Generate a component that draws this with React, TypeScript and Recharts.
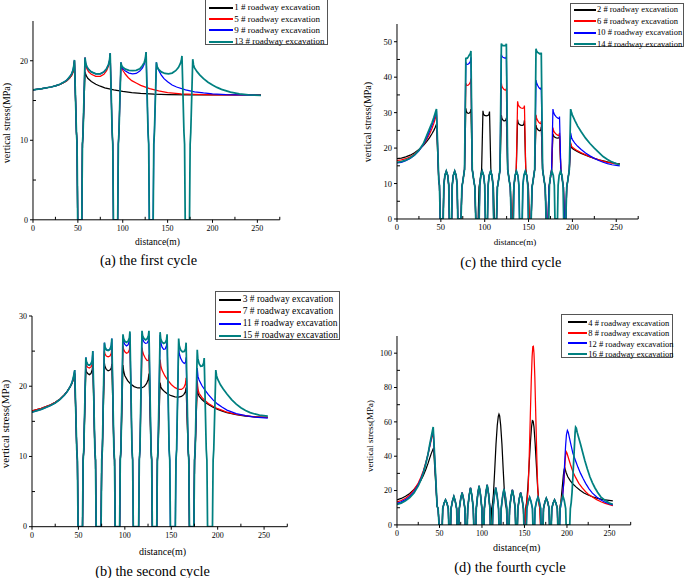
import React from "react";
import { LineChart, Line, XAxis, YAxis } from "recharts";

// Four-panel figure: vertical stress along the measuring line after each excavation cycle.
// Each series is assembled from short named segments (walls, roadway legs, pillar tops) read off the figure.
type Pt = [number, number];

const FONT = '"Liberation Serif", "Times New Roman", serif';
const COLORS = ["#000000", "#ff0000", "#0000ff", "#008080"];
// the last excavation of a cycle is drawn last and a little wider, so it hides the shared roadway legs below it
const WIDTHS = [1.25, 1.25, 1.25, 1.75];
const X_TICKS = [0, 25, 50, 75, 100, 125, 150, 175, 200, 225, 250, 275];

// ---------- (a) the first cycle ----------
const A_NAMES = ["1 # roadway excavation", "5 # roadway excavation", "9 # roadway excavation", "13 # roadway excavation"];
const A_LEFT_DARK: Pt[] = [[0, 16.35], [10, 16.5], [20, 16.7], [25, 16.85], [30, 17.03], [35, 17.3], [38, 17.52], [41, 17.85], [43, 18.15], [44.5, 18.55], [45.5, 19.1], [46.2, 20.0]];
const A_LEFT: Pt[] = [[0, 16.35], [10, 16.5], [20, 16.7], [25, 16.85], [30, 17.05], [35, 17.35], [38, 17.6], [41, 18.0], [43, 18.35], [44.5, 18.8], [45.5, 19.4], [46.2, 20.1]];
const A_RW1: Pt[] = [[48.4, 11], [49.1, 9.5], [49.8, 0], [54.4, 0], [55.1, 9.5], [55.8, 11]];
const A_RW2: Pt[] = [[88.2, 11], [88.9, 9.5], [89.6, 0], [94.4, 0], [95.1, 9.5], [95.8, 11]];
const A_RW3: Pt[] = [[128.2, 11], [128.9, 9.5], [129.6, 0], [133.9, 0], [134.6, 9.5], [135.3, 11]];
const A_RW4: Pt[] = [[168.2, 11], [168.9, 9.5], [169.6, 0], [174.4, 0], [175.1, 9.5], [175.8, 11]];
const A_BLACK_TAIL: Pt[] = [[58, 18.6], [59, 18.2], [61, 17.8], [65, 17.4], [70, 17.05], [75, 16.8], [80, 16.6], [90, 16.35], [100, 16.15], [110, 16.0], [120, 15.9], [135, 15.8], [150, 15.75], [175, 15.7], [200, 15.7], [230, 15.7], [254, 15.7]];
const A_RED_P1: Pt[] = [[58, 20.4], [58.7, 19.5], [60, 19.0], [62, 18.6], [65, 18.3], [70, 18.05], [75, 18.05], [79, 18.3], [82, 18.75], [84, 19.3], [85.2, 19.9], [86, 20.9]];
const A_RED_TAIL: Pt[] = [[98, 19.6], [98.8, 19.1], [100, 18.8], [103, 18.3], [106, 17.9], [110, 17.5], [115, 17.2], [120, 16.9], [130, 16.5], [140, 16.2], [150, 16.0], [165, 15.85], [180, 15.78], [200, 15.72], [230, 15.7], [254, 15.7]];
const A_P1: Pt[] = [[58, 20.4], [58.7, 19.7], [60, 19.25], [62, 18.9], [65, 18.6], [70, 18.35], [75, 18.35], [79, 18.6], [82, 19.0], [84, 19.5], [85.2, 20.0], [86, 20.95]];
const A_BLUE_P2: Pt[] = [[98, 19.8], [98.7, 19.3], [100, 19.0], [103, 18.7], [107, 18.45], [111, 18.35], [115, 18.4], [119, 18.7], [122, 19.1], [124, 19.6], [125.2, 20.2], [126, 21.1]];
const A_BLUE_TAIL: Pt[] = [[137.5, 19.8], [138.3, 19.2], [140, 18.8], [143, 18.2], [146, 17.75], [150, 17.35], [155, 16.95], [160, 16.7], [170, 16.35], [180, 16.1], [190, 15.95], [200, 15.85], [215, 15.75], [235, 15.7], [254, 15.65]];
const A_TEAL_P2: Pt[] = [[98, 19.8], [98.7, 19.4], [100, 19.2], [103, 18.95], [107, 18.8], [111, 18.75], [115, 18.8], [119, 19.0], [122, 19.4], [124, 19.8], [125.2, 20.3], [126, 21.1]];
const A_TEAL_P3: Pt[] = [[137.5, 19.8], [138.2, 19.3], [140, 18.9], [143, 18.6], [147, 18.4], [151, 18.35], [155, 18.45], [159, 18.75], [162, 19.15], [164, 19.6], [165.2, 20.0], [166, 20.6]];
const A_TEAL_TAIL: Pt[] = [[178, 20.2], [178.8, 19.5], [180, 19.1], [183, 18.6], [186, 18.2], [190, 17.75], [195, 17.3], [200, 16.95], [205, 16.65], [210, 16.4], [220, 16.05], [230, 15.85], [240, 15.72], [254, 15.65]];

// ---------- (b) the second cycle ----------
const B_NAMES = ["3 # roadway excavation", "7 # roadway excavation", "11 # roadway excavation", "15 # roadway excavation"];
const B_LEFT_DARK: Pt[] = [[0, 16.5], [10, 16.85], [20, 17.35], [25, 17.7], [30, 18.15], [35, 18.8], [38, 19.3], [41, 19.9], [43, 20.4], [44.5, 20.95], [46, 21.8]];
const B_LEFT_LIGHT: Pt[] = [[0, 16.3], [10, 16.7], [20, 17.25], [25, 17.62], [30, 18.1], [35, 18.75], [38, 19.25], [41, 19.9], [43, 20.5], [44.5, 21.2], [46, 22.3]];
const B_RW1: Pt[] = [[48.2, 11], [48.9, 9.5], [49.6, 0], [54.4, 0], [55.1, 9.5], [55.8, 11]];
const B_RW2: Pt[] = [[67.7, 11], [68.4, 9.5], [69.1, 0], [74.4, 0], [75.1, 9.5], [75.8, 11]];
const B_RW3: Pt[] = [[88.2, 11], [88.9, 9.5], [89.6, 0], [94.4, 0], [95.1, 9.5], [95.8, 11]];
const B_RW4: Pt[] = [[107.7, 11], [108.4, 9.5], [109.1, 0], [114.9, 0], [115.6, 9.5], [116.3, 11]];
const B_RW5: Pt[] = [[128.2, 11], [128.9, 9.5], [129.6, 0], [134.4, 0], [135.1, 9.5], [135.8, 11]];
const B_RW6: Pt[] = [[147.7, 11], [148.4, 9.5], [149.1, 0], [154.4, 0], [155.1, 9.5], [155.8, 11]];
const B_RW7: Pt[] = [[168.2, 11], [168.9, 9.5], [169.6, 0], [174.4, 0], [175.1, 9.5], [175.8, 11]];
const B_RW8: Pt[] = [[187.7, 11], [188.4, 9.5], [189.1, 0], [194.4, 0], [195.1, 9.5], [195.8, 11]];
const B_P1: Pt[] = [[58, 24.1], [58.6, 23.5], [60, 23.1], [61.75, 23.0], [63.5, 23.15], [64.9, 23.7], [65.5, 25.0]];
const B_P2: Pt[] = [[78, 26.2], [78.6, 25.6], [80, 25.2], [82, 25.1], [84, 25.25], [85.4, 25.8], [86, 26.8]];
const B_BLACK_P1: Pt[] = [[58, 22.5], [58.6, 22.1], [60, 21.8], [61.75, 21.65], [63.5, 21.8], [64.9, 22.4], [65.5, 23.4]];
const B_BLACK_P2: Pt[] = [[78, 23.3], [78.6, 22.8], [80, 22.4], [82, 22.2], [84, 22.3], [85.4, 22.6], [86, 23.2]];
const B_BLACK_P34: Pt[] = [[98, 23.0], [98.8, 22.1], [100, 21.5], [103, 20.8], [106, 20.35], [110, 19.95], [114, 19.75], [118, 19.75], [121, 19.95], [123.5, 20.4], [125.2, 21.0], [126, 21.8]];
const B_BLACK_P56: Pt[] = [[138, 20.5], [138.8, 19.9], [140, 19.6], [143, 19.2], [146, 18.9], [150, 18.65], [154, 18.5], [158, 18.45], [161, 18.55], [163.5, 18.8], [165.2, 19.2], [166, 19.8]];
const B_BLACK_TAIL: Pt[] = [[178, 20.3], [178.8, 19.0], [180, 18.6], [183, 18.1], [186, 17.75], [190, 17.4], [195, 17.0], [200, 16.7], [205, 16.45], [210, 16.25], [220, 15.95], [230, 15.75], [240, 15.65], [254, 15.55]];
const B_RED_P1: Pt[] = [[58, 23.2], [58.6, 22.9], [60, 22.7], [61.75, 22.6], [63.5, 22.75], [64.9, 23.1], [65.5, 24.0]];
const B_RED_P2: Pt[] = [[78, 25.0], [78.6, 24.6], [80, 24.3], [82, 24.2], [84, 24.3], [85.4, 24.7], [86, 25.5]];
const B_RED_P3: Pt[] = [[98, 25.8], [98.6, 25.3], [100, 24.9], [101.75, 24.7], [103.5, 24.8], [104.9, 25.2], [105.5, 26.1]];
const B_RED_P4: Pt[] = [[118.5, 25.5], [119.1, 25.0], [120.5, 24.4], [122.25, 23.95], [124, 23.65], [125.4, 23.7], [126, 24.5]];
const B_RED_P56: Pt[] = [[138, 23.8], [138.8, 22.9], [140, 22.3], [143, 21.5], [146, 20.9], [150, 20.25], [154, 19.8], [158, 19.55], [161, 19.55], [163.5, 19.8], [165.2, 20.3], [166, 21.2]];
const B_RED_TAIL: Pt[] = [[178, 20.8], [178.8, 19.5], [180, 19.0], [183, 18.4], [186, 18.0], [190, 17.55], [195, 17.15], [200, 16.8], [205, 16.55], [210, 16.3], [220, 16.0], [230, 15.8], [240, 15.65], [254, 15.55]];
const B_BLUE_P3: Pt[] = [[98, 27.1], [98.6, 26.4], [100, 25.95], [101.75, 25.75], [103.5, 25.9], [104.9, 26.5], [105.5, 27.5]];
const B_BLUE_P4: Pt[] = [[118.5, 27.4], [119.1, 26.8], [120.5, 26.3], [122.25, 26.1], [124, 26.15], [125.4, 26.5], [126, 27.2]];
const B_BLUE_P5: Pt[] = [[138, 27.3], [138.6, 26.3], [140, 25.6], [141.75, 25.25], [143.5, 25.3], [144.9, 25.8], [145.5, 26.8]];
const B_BLUE_P6: Pt[] = [[158, 25.6], [158.6, 24.7], [160, 24.0], [162, 23.5], [164, 23.25], [165.4, 23.4], [166, 24.1]];
const B_BLUE_TAIL: Pt[] = [[178, 22.6], [178.8, 21.4], [180, 20.9], [183, 20.1], [186, 19.5], [190, 18.8], [195, 18.05], [200, 17.45], [205, 17.0], [210, 16.6], [220, 16.1], [230, 15.8], [240, 15.6], [254, 15.45]];
const B_TEAL_P3: Pt[] = [[98, 27.4], [98.6, 26.8], [100, 26.4], [101.75, 26.25], [103.5, 26.4], [104.9, 26.9], [105.5, 27.8]];
const B_TEAL_P4: Pt[] = [[118.5, 27.9], [119.1, 27.2], [120.5, 26.8], [122.25, 26.6], [124, 26.75], [125.4, 27.2], [126, 27.9]];
const B_TEAL_P5: Pt[] = [[138, 27.7], [138.6, 26.8], [140, 26.3], [141.75, 26.1], [143.5, 26.2], [144.9, 26.6], [145.5, 27.4]];
const B_TEAL_P6: Pt[] = [[158, 26.8], [158.6, 25.8], [160, 25.2], [162, 24.9], [164, 24.95], [165.4, 25.3], [166, 26.2]];
const B_TEAL_P7: Pt[] = [[178, 25.2], [178.6, 24.0], [180, 23.2], [181.75, 22.85], [183.5, 22.9], [184.9, 23.3], [185.5, 24.0]];
const B_TEAL_TAIL: Pt[] = [[198, 22.3], [198.8, 21.5], [200, 21.0], [203, 20.2], [206, 19.6], [210, 18.9], [215, 18.1], [220, 17.45], [225, 16.95], [230, 16.55], [235, 16.25], [240, 16.05], [245, 15.9], [254, 15.75]];

// ---------- (c) the third cycle ----------
const C_NAMES = ["2 # roadway excavation", "6 # roadway excavation", "10 # roadway excavation", "14 # roadway excavation"];
const C_LEFT_BLACK: Pt[] = [[0, 17.0], [5, 17.2], [10, 17.5], [15, 18.0], [20, 18.7], [25, 19.6], [30, 20.7], [34, 21.9], [37, 22.9], [40, 24.1], [42, 25.0], [43.5, 25.8], [45, 26.7]];
const C_LEFT_RED: Pt[] = [[0, 16.5], [5, 16.7], [10, 17.0], [15, 17.5], [20, 18.3], [25, 19.4], [30, 20.9], [34, 22.5], [37, 23.9], [40, 25.6], [42, 27.0], [43.5, 28.2], [45, 29.5]];
const C_LEFT_BLUE: Pt[] = [[0, 15.8], [5, 16.0], [10, 16.45], [15, 17.05], [20, 17.95], [25, 19.2], [30, 20.95], [34, 22.9], [37, 24.7], [40, 26.6], [42, 28.0], [43.5, 29.2], [45, 30.5]];
const C_LEFT_TEAL: Pt[] = [[0, 16.0], [5, 16.2], [10, 16.6], [15, 17.2], [20, 18.1], [25, 19.4], [30, 21.2], [34, 23.6], [37, 25.4], [40, 27.2], [42, 28.6], [43.5, 29.8], [45, 31.0]];
const C_DROP: Pt[] = [[47.6, 11], [48.4, 9.5], [49.3, 0]];
const C_BUMP56: Pt[] = [[52.7, 0], [53.4, 9.5], [54.6, 12.3], [56.2, 13.5], [57.8, 12.3], [59, 9.5], [59.7, 0]];
const C_BUMP66: Pt[] = [[62.3, 0], [63, 9.5], [64.2, 12.3], [65.8, 13.5], [67.4, 12.3], [68.6, 9.5], [69.3, 0]];
const C_BUMP97: Pt[] = [[93.7, 0], [94.4, 9.5], [95.6, 12.3], [97.2, 13.5], [98.8, 12.3], [100, 9.5], [100.7, 0]];
const C_BUMP107: Pt[] = [[103.2, 0], [103.9, 9.5], [105.1, 12.3], [106.7, 13.5], [108.3, 12.3], [109.5, 9.5], [110.2, 0]];
const C_BUMP136: Pt[] = [[132.7, 0], [133.4, 9.5], [134.6, 12.3], [136.2, 13.5], [137.8, 12.3], [139, 9.5], [139.7, 0]];
const C_BUMP146: Pt[] = [[142.8, 0], [143.5, 9.5], [144.7, 12.3], [146.3, 13.5], [147.9, 12.3], [149.1, 9.5], [149.8, 0]];
const C_BUMP177: Pt[] = [[173.1, 0], [173.8, 9.5], [175, 12.3], [176.6, 13.5], [178.2, 12.3], [179.4, 9.5], [180.1, 0]];
const C_BUMP187: Pt[] = [[183, 0], [183.7, 9.5], [184.9, 12.3], [186.5, 13.5], [188.1, 12.3], [189.3, 9.5], [190, 0]];
const C_A_IN: Pt[] = [[73, 0], [74, 9], [75, 10.5], [77, 14]];
const C_A_OUT: Pt[] = [[85.8, 14], [87.8, 10.5], [88.8, 9], [89.8, 0]];
const C_B_IN: Pt[] = [[92.5, 0], [93.5, 9], [94.5, 10.5], [96.5, 14]];
const C_B_OUT: Pt[] = [[107, 14], [109, 10.5], [110, 9], [111, 0]];
const C_C_IN: Pt[] = [[113.5, 0], [114.5, 9], [115.5, 10.5], [117.5, 14]];
const C_C_OUT: Pt[] = [[126.2, 14], [128.2, 10.5], [129.2, 9], [130.2, 0]];
const C_D_IN: Pt[] = [[132, 0], [133, 9], [134, 10.5], [136, 14]];
const C_D_OUT: Pt[] = [[146.8, 14], [148.8, 10.5], [149.8, 9], [150.8, 0]];
const C_E_IN: Pt[] = [[153, 0], [154, 9], [155, 10.5], [157, 14]];
const C_E_OUT: Pt[] = [[166, 14], [168, 10.5], [169, 9], [170, 0]];
const C_F_IN: Pt[] = [[172.3, 0], [173.3, 9], [174.3, 10.5], [176.3, 14]];
const C_F_OUT: Pt[] = [[186.8, 14], [188.8, 10.5], [189.8, 9], [190.8, 0]];
const C_RW_IN: Pt[] = [[192.5, 0], [193.5, 9], [194.5, 10.5], [196.5, 14]];
const C_A_TEAL: Pt[] = [[78.5, 45.5], [79.1, 45.2], [80.3, 45.4], [81.4, 45.8], [82.5, 46.3], [83.7, 46.7], [84.3, 47.4]];
const C_A_BLUE: Pt[] = [[78.5, 44.2], [79.1, 43.7], [80.3, 43.6], [81.4, 43.7], [82.5, 44.0], [83.7, 44.5], [84.3, 45.6]];
const C_A_RED: Pt[] = [[78.5, 38.3], [79.1, 37.8], [80.3, 37.7], [81.4, 37.8], [82.5, 38.1], [83.7, 38.6], [84.3, 39.6]];
const C_A_BLACK: Pt[] = [[78.5, 31.2], [79.1, 30.3], [80.3, 29.9], [81.4, 29.8], [82.5, 29.9], [83.7, 30.2], [84.3, 31.0]];
const C_B_BLACK: Pt[] = [[98, 30.5], [98.6, 29.6], [99.8, 29.2], [101.75, 29.1], [103.7, 29.2], [104.9, 29.5], [105.5, 30.3]];
const C_C_TEAL: Pt[] = [[119, 49.5], [119.6, 49.1], [120.8, 48.9], [121.85, 48.9], [122.9, 48.9], [124.1, 49.0], [124.7, 49.4]];
const C_C_BLUE: Pt[] = [[119, 46.4], [119.6, 45.9], [120.8, 45.6], [121.85, 45.5], [122.9, 45.4], [124.1, 45.4], [124.7, 45.8]];
const C_C_RED: Pt[] = [[119, 38.3], [119.6, 37.4], [120.8, 36.9], [121.85, 36.6], [122.9, 36.4], [124.1, 36.3], [124.7, 36.8]];
const C_C_BLACK: Pt[] = [[119, 29.3], [119.6, 28.4], [120.8, 27.9], [121.85, 27.7], [122.9, 27.7], [124.1, 27.9], [124.7, 28.5]];
const C_D_RED: Pt[] = [[137.5, 33.2], [138.1, 32.4], [139.3, 31.7], [141.4, 31.3], [143.5, 31.2], [144.7, 31.4], [145.3, 32.0]];
const C_D_BLACK: Pt[] = [[137.5, 28.0], [138.1, 27.2], [139.3, 26.7], [141.4, 26.4], [143.5, 26.4], [144.7, 26.8], [145.3, 27.8]];
const C_E_TEAL: Pt[] = [[158.5, 48.0], [159.1, 47.4], [160.3, 47.0], [161.5, 46.8], [162.7, 46.6], [163.9, 46.6], [164.5, 46.9]];
const C_E_BLUE: Pt[] = [[158.5, 39.2], [159.1, 38.4], [160.3, 37.7], [161.5, 37.2], [162.7, 36.8], [163.9, 36.6], [164.5, 37.2]];
const C_E_RED: Pt[] = [[158.5, 29.4], [159.1, 28.5], [160.3, 27.8], [161.5, 27.3], [162.7, 27.0], [163.9, 26.9], [164.5, 27.6]];
const C_E_BLACK: Pt[] = [[158.5, 26.5], [159.1, 25.8], [160.3, 25.3], [161.5, 25.0], [162.7, 24.9], [163.9, 25.1], [164.5, 26.0]];
const C_F_BLUE: Pt[] = [[177.8, 31.0], [178.4, 30.2], [179.6, 29.4], [181.55, 28.8], [183.5, 28.4], [184.7, 28.3], [185.3, 28.9]];
const C_F_RED: Pt[] = [[177.8, 25.8], [178.4, 25.0], [179.6, 24.4], [181.55, 23.9], [183.5, 23.6], [184.7, 23.6], [185.3, 24.3]];
const C_F_BLACK: Pt[] = [[177.8, 24.0], [178.4, 23.5], [179.6, 23.1], [181.55, 22.9], [183.5, 22.8], [184.7, 22.9], [185.3, 23.5]];
const C_TAIL_TEAL: Pt[] = [[198, 31.0], [199, 30.0], [200, 29.3], [203, 27.7], [206, 26.2], [210, 24.6], [215, 22.8], [220, 21.3], [225, 20.0], [230, 18.8], [235, 17.6], [240, 16.8], [245, 16.1], [250, 15.6], [254, 15.3]];
const C_TAIL_BLUE: Pt[] = [[198, 24.3], [199, 23.0], [200, 22.4], [203, 21.3], [206, 20.5], [210, 19.6], [215, 18.6], [220, 17.8], [225, 17.1], [230, 16.5], [235, 16.0], [240, 15.6], [245, 15.3], [250, 15.1], [254, 15.0]];
const C_TAIL_RED: Pt[] = [[198, 21.5], [199, 20.6], [200, 20.2], [203, 19.7], [206, 19.2], [210, 18.7], [215, 18.1], [220, 17.6], [225, 17.1], [230, 16.7], [235, 16.3], [240, 16.0], [245, 15.75], [250, 15.55], [254, 15.4]];
const C_TAIL_BLACK: Pt[] = [[198, 21.0], [199, 20.2], [200, 19.9], [203, 19.4], [206, 19.0], [210, 18.5], [215, 18.0], [220, 17.5], [225, 17.1], [230, 16.7], [235, 16.4], [240, 16.1], [245, 15.9], [250, 15.7], [254, 15.6]];

// ---------- (d) the fourth cycle ----------
const D_NAMES = ["4 # roadway excavation", "8 # roadway excavation", "12 # roadway excavation", "16 # roadway excavation"];
const D_LEFT_BLACK: Pt[] = [[0, 14.6], [5, 15.4], [10, 16.7], [15, 18.3], [20, 20.6], [25, 23.6], [28, 25.9], [31, 28.8], [34, 32.4], [36.5, 35.8], [38.5, 38.9], [40.5, 41.8], [43, 44.8]];
const D_LEFT_RED: Pt[] = [[0, 13.4], [5, 14.2], [10, 15.5], [15, 17.4], [20, 20.4], [25, 24.4], [28, 27.6], [31, 31.5], [34, 36.5], [36.5, 41.3], [38.5, 45.5], [40.5, 49.8], [42.6, 54.0]];
const D_LEFT_BLUE: Pt[] = [[0, 12.6], [5, 13.4], [10, 14.7], [15, 16.6], [20, 19.4], [25, 23.4], [28, 26.7], [31, 30.7], [34, 36.0], [36.5, 41.0], [38.5, 46.0], [40.5, 50.8], [42.6, 55.5]];
const D_LEFT_TEAL: Pt[] = [[0, 12.0], [5, 12.7], [10, 14.0], [15, 15.9], [20, 18.6], [25, 22.7], [28, 26.0], [31, 30.2], [34, 35.8], [36.5, 41.2], [38.5, 46.8], [40.5, 51.8], [42.6, 57.0]];
const D_DROP: Pt[] = [[47.2, 11], [48.4, 9.3], [49.5, 0]];
const D_B57: Pt[] = [[53.3, 0], [53.8, 9.5], [55.5, 12.8], [57.1, 14.6], [58.7, 12.8], [60.4, 9.5], [60.9, 0]];
const D_B67: Pt[] = [[63.1, 0], [63.6, 9.5], [65.3, 13.9], [66.9, 16.5], [68.5, 13.9], [70.2, 9.5], [70.7, 0]];
const D_B77: Pt[] = [[72.8, 0], [73.3, 9.5], [75, 15.3], [76.6, 18.8], [78.2, 15.3], [79.9, 9.5], [80.4, 0]];
const D_B87: Pt[] = [[82.7, 0], [83.2, 9.5], [84.9, 17.0], [86.5, 21.5], [88.1, 17.0], [89.8, 9.5], [90.3, 0]];
const D_B97: Pt[] = [[92.8, 0], [93.3, 9.5], [95, 17.8], [96.6, 22.7], [98.2, 17.8], [99.9, 9.5], [100.4, 0]];
const D_B106: Pt[] = [[102.3, 0], [102.8, 9.5], [104.5, 18.2], [106.1, 23.3], [107.7, 18.2], [109.4, 9.5], [109.9, 0]];
const D_B116: Pt[] = [[112.4, 0], [112.9, 9.5], [114.6, 17.1], [116.2, 21.7], [117.8, 17.1], [119.5, 9.5], [120, 0]];
const D_B126: Pt[] = [[122.1, 0], [122.6, 9.5], [124.3, 16.6], [125.9, 21.0], [127.5, 16.6], [129.2, 9.5], [129.7, 0]];
const D_B136: Pt[] = [[132, 0], [132.5, 9.5], [134.2, 16.3], [135.8, 20.4], [137.4, 16.3], [139.1, 9.5], [139.6, 0]];
const D_B146: Pt[] = [[141.7, 0], [142.2, 9.5], [143.9, 15.3], [145.5, 18.8], [147.1, 15.3], [148.8, 9.5], [149.3, 0]];
const D_B156: Pt[] = [[152.3, 0], [152.8, 9.5], [154.5, 13.7], [156.1, 16.1], [157.7, 13.7], [159.4, 9.5], [159.9, 0]];
const D_B166: Pt[] = [[162, 0], [162.5, 9.5], [164.2, 13.7], [165.8, 16.1], [167.4, 13.7], [169.1, 9.5], [169.6, 0]];
const D_B176: Pt[] = [[171.9, 0], [172.4, 9.5], [174.1, 13.4], [175.7, 15.5], [177.3, 13.4], [179, 9.5], [179.5, 0]];
const D_B185: Pt[] = [[181.6, 0], [182.1, 9.5], [183.8, 12.8], [185.4, 14.6], [187, 12.8], [188.7, 9.5], [189.2, 0]];
const D_B195: Pt[] = [[191.4, 0], [191.9, 9.5], [193.6, 14.2], [195.2, 16.9], [196.8, 14.2], [198.5, 9.5], [199, 0]];
const D_BLACK_P4: Pt[] = [[110.5, 0], [111.3, 9.5], [112.3, 12], [113.5, 18], [115, 32], [116.5, 47], [118, 58], [119.2, 63.2], [120, 64.5], [120.8, 63.5], [122, 58], [123.5, 47], [125, 32], [126.5, 18], [127.7, 12], [128.7, 9.5], [129.5, 0]];
const D_BLACK_P6: Pt[] = [[150.5, 0], [151.3, 9.5], [152.5, 13], [154, 22], [155.5, 35], [157, 48], [158.3, 57], [159.3, 60.8], [160.2, 60.5], [161.2, 57], [162.5, 48], [164, 35], [165.5, 22], [167, 13], [168.2, 9.5], [169, 0]];
const D_RED_P6: Pt[] = [[150.8, 0], [151.6, 9.5], [152.8, 13], [154.3, 20], [155.5, 38], [156.8, 62], [158, 84], [159, 98], [159.8, 103.8], [160.5, 104], [161.2, 100], [162.2, 86], [163.4, 62], [164.6, 38], [165.7, 20], [167, 13], [168, 9.5], [168.8, 0]];
const D_RIGHT_BLACK: Pt[] = [[191, 0], [191.7, 9.5], [193, 14], [194.5, 22], [195.8, 29], [196.8, 32.5], [197.5, 33.0], [199, 30.5], [201, 28.0], [204, 25.6], [207, 23.8], [211, 22.0], [215, 20.3], [220, 18.6], [225, 17.4], [230, 16.4], [235, 15.6], [240, 15.0], [245, 14.5], [254, 14.0]];
const D_RIGHT_RED: Pt[] = [[191, 0], [191.7, 9.5], [193, 14], [195, 18], [196.5, 25], [197.5, 34], [198.3, 40], [199, 42.7], [200, 41.8], [202, 38.5], [204, 35.3], [207, 31.0], [210, 27.8], [214, 24.2], [218, 21.5], [222, 19.3], [226, 17.5], [230, 16.2], [235, 14.7], [240, 13.5], [245, 12.5], [254, 11.2]];
const D_RIGHT_BLUE: Pt[] = [[191.5, 0], [192.2, 9.5], [193.5, 13], [195, 17], [196.2, 25], [197.3, 36], [198.4, 46], [199.4, 52.5], [200.5, 55.0], [201.5, 54.0], [203, 50.5], [205, 46.0], [207, 41.7], [210, 37.5], [213, 33.5], [216, 30.0], [219, 27.0], [222, 24.2], [226, 21.0], [230, 18.5], [235, 16.2], [240, 14.5], [245, 13.2], [250, 12.2], [254, 11.6]];
const D_RIGHT_TEAL: Pt[] = [[203.3, 0], [204, 9.5], [205, 13], [206, 19], [207, 28], [208, 38], [209, 48], [209.6, 54], [210.2, 56.9], [211, 56.3], [212, 54.0], [214, 50.5], [216, 47.0], [218.6, 42.0], [221, 37.5], [224, 32.5], [227, 28.0], [230, 24.5], [233, 21.5], [236, 19.0], [240, 16.2], [245, 14.2], [250, 12.7], [254, 12.0]];

type Box = { L: number; T: number; R: number; B: number };
type Series = { name: string; color: string; width: number; points: Pt[] };

function XTick(props: any) {
  const { x, y, payload, fontSize } = props;
  const v = payload.value as number;
  const major = v % 50 === 0;
  return (
    <g>
      <line x1={x} x2={x} y1={y} y2={major ? y + 3 : y - 3} stroke="#000" strokeWidth={1} />
      {major && (
        <text x={x} y={y + 11.5} textAnchor="middle" fontSize={fontSize} fontFamily={FONT} fill="#000">
          {v}
        </text>
      )}
    </g>
  );
}

function YTick(props: any) {
  const { x, y, payload, fontSize, majors } = props;
  const v = payload.value as number;
  const major = majors.includes(v);
  return (
    <g>
      <line x1={x} x2={major ? x - 3 : x + 3} y1={y} y2={y} stroke="#000" strokeWidth={1} />
      {major && (
        <text x={x - 5} y={y + fontSize * 0.35} textAnchor="end" fontSize={fontSize} fontFamily={FONT} fill="#000">
          {v}
        </text>
      )}
    </g>
  );
}

function Panel({ box, yMax, yTicks, yMajors, series, tickFont }: { box: Box; yMax: number; yTicks: number[]; yMajors: number[]; series: Series[]; tickFont: number }) {
  const padL = 40, padT = 6, padR = 6, padB = 30;
  return (
    <div style={{ position: "absolute", left: box.L - padL, top: box.T - padT }}>
      <LineChart width={box.R - box.L + padL + padR} height={box.B - box.T + padT + padB} margin={{ top: padT, right: padR, bottom: 0, left: 0 }}>
        <XAxis type="number" dataKey="x" domain={[0, 275]} ticks={X_TICKS} interval={0} height={padB} tickSize={0} tickMargin={0} tickLine={false} axisLine={{ stroke: "#000" }} tick={(p: any) => <XTick {...p} fontSize={tickFont} />} allowDataOverflow />
        <YAxis type="number" domain={[0, yMax]} ticks={yTicks} interval={0} width={padL} tickSize={0} tickMargin={0} tickLine={false} axisLine={{ stroke: "#000" }} tick={(p: any) => <YTick {...p} fontSize={tickFont} majors={yMajors} />} allowDataOverflow />
        {series.map((s) => (
          <Line key={s.name} name={s.name} data={s.points.map(([x, y]) => ({ x, y }))} dataKey="y" type="linear" stroke={s.color} strokeWidth={s.width} dot={false} activeDot={false} isAnimationActive={false} />
        ))}
      </LineChart>
    </div>
  );
}

function LegendBox({ names, left, top, width, height, r0, dy, lineX, lineLen, textX, fontSize }: { names: string[]; left: number; top: number; width: number; height: number; r0: number; dy: number; lineX: number; lineLen: number; textX: number; fontSize: number }) {
  return (
    <div style={{ position: "absolute", left, top, width, height, border: "1px solid #555", boxSizing: "border-box", background: "#fff" }}>
      {names.map((n, i) => (
        <div key={n}>
          <div style={{ position: "absolute", left: lineX, top: Math.round(r0 + i * dy - 1), width: lineLen, height: 2, background: COLORS[i] }} />
          <div style={{ position: "absolute", left: textX, top: r0 + i * dy - fontSize * 0.6, fontSize, lineHeight: `${fontSize * 1.2}px`, fontFamily: FONT, whiteSpace: "nowrap", color: "#000" }}>{n}</div>
        </div>
      ))}
    </div>
  );
}

function Txt({ x, y, size, children, rotate }: { x: number; y: number; size: number; children: React.ReactNode; rotate?: boolean }) {
  return (
    <div style={{ position: "absolute", left: x, top: y, transform: `translate(-50%, -50%)${rotate ? " rotate(-90deg)" : ""}`, fontSize: size, lineHeight: 1, fontFamily: FONT, whiteSpace: "nowrap", color: "#000" }}>
      {children}
    </div>
  );
}

const mk = (names: string[], lists: Pt[][]): Series[] => lists.map((points, i) => ({ name: names[i], color: COLORS[i], width: WIDTHS[i], points }));

export default function App() {
  const aSeries = mk(A_NAMES, [
    [...A_LEFT_DARK, ...A_RW1, ...A_BLACK_TAIL],
    [...A_LEFT_DARK, ...A_RW1, ...A_RED_P1, ...A_RW2, ...A_RED_TAIL],
    [...A_LEFT, ...A_RW1, ...A_P1, ...A_RW2, ...A_BLUE_P2, ...A_RW3, ...A_BLUE_TAIL],
    [...A_LEFT, ...A_RW1, ...A_P1, ...A_RW2, ...A_TEAL_P2, ...A_RW3, ...A_TEAL_P3, ...A_RW4, ...A_TEAL_TAIL],
  ]);
  const bSeries = mk(B_NAMES, [
    [...B_LEFT_DARK, ...B_RW1, ...B_BLACK_P1, ...B_RW2, ...B_BLACK_P2, ...B_RW3, ...B_BLACK_P34, ...B_RW5, ...B_BLACK_P56, ...B_RW7, ...B_BLACK_TAIL],
    [...B_LEFT_DARK, ...B_RW1, ...B_RED_P1, ...B_RW2, ...B_RED_P2, ...B_RW3, ...B_RED_P3, ...B_RW4, ...B_RED_P4, ...B_RW5, ...B_RED_P56, ...B_RW7, ...B_RED_TAIL],
    [...B_LEFT_LIGHT, ...B_RW1, ...B_P1, ...B_RW2, ...B_P2, ...B_RW3, ...B_BLUE_P3, ...B_RW4, ...B_BLUE_P4, ...B_RW5, ...B_BLUE_P5, ...B_RW6, ...B_BLUE_P6, ...B_RW7, ...B_BLUE_TAIL],
    [...B_LEFT_LIGHT, ...B_RW1, ...B_P1, ...B_RW2, ...B_P2, ...B_RW3, ...B_TEAL_P3, ...B_RW4, ...B_TEAL_P4, ...B_RW5, ...B_TEAL_P5, ...B_RW6, ...B_TEAL_P6, ...B_RW7, ...B_TEAL_P7, ...B_RW8, ...B_TEAL_TAIL],
  ]);
  const cSeries = mk(C_NAMES, [
    [...C_LEFT_BLACK, ...C_DROP, ...C_BUMP56, ...C_BUMP66, ...C_A_IN, ...C_A_BLACK, ...C_A_OUT, ...C_B_IN, ...C_B_BLACK, ...C_B_OUT, ...C_C_IN, ...C_C_BLACK, ...C_C_OUT, ...C_D_IN, ...C_D_BLACK, ...C_D_OUT, ...C_E_IN, ...C_E_BLACK, ...C_E_OUT, ...C_F_IN, ...C_F_BLACK, ...C_F_OUT, ...C_RW_IN, ...C_TAIL_BLACK],
    [...C_LEFT_RED, ...C_DROP, ...C_BUMP56, ...C_BUMP66, ...C_A_IN, ...C_A_RED, ...C_A_OUT, ...C_BUMP97, ...C_BUMP107, ...C_C_IN, ...C_C_RED, ...C_C_OUT, ...C_D_IN, ...C_D_RED, ...C_D_OUT, ...C_E_IN, ...C_E_RED, ...C_E_OUT, ...C_F_IN, ...C_F_RED, ...C_F_OUT, ...C_RW_IN, ...C_TAIL_RED],
    [...C_LEFT_BLUE, ...C_DROP, ...C_BUMP56, ...C_BUMP66, ...C_A_IN, ...C_A_BLUE, ...C_A_OUT, ...C_BUMP97, ...C_BUMP107, ...C_C_IN, ...C_C_BLUE, ...C_C_OUT, ...C_BUMP136, ...C_BUMP146, ...C_E_IN, ...C_E_BLUE, ...C_E_OUT, ...C_F_IN, ...C_F_BLUE, ...C_F_OUT, ...C_RW_IN, ...C_TAIL_BLUE],
    [...C_LEFT_TEAL, ...C_DROP, ...C_BUMP56, ...C_BUMP66, ...C_A_IN, ...C_A_TEAL, ...C_A_OUT, ...C_BUMP97, ...C_BUMP107, ...C_C_IN, ...C_C_TEAL, ...C_C_OUT, ...C_BUMP136, ...C_BUMP146, ...C_E_IN, ...C_E_TEAL, ...C_E_OUT, ...C_BUMP177, ...C_BUMP187, ...C_RW_IN, ...C_TAIL_TEAL],
  ]);
  const dSeries = mk(D_NAMES, [
    [...D_LEFT_BLACK, ...D_DROP, ...D_B57, ...D_B67, ...D_B77, ...D_B87, ...D_B97, ...D_B106, ...D_BLACK_P4, ...D_B136, ...D_B146, ...D_BLACK_P6, ...D_B176, ...D_B185, ...D_RIGHT_BLACK],
    [...D_LEFT_RED, ...D_DROP, ...D_B57, ...D_B67, ...D_B77, ...D_B87, ...D_B97, ...D_B106, ...D_B116, ...D_B126, ...D_B136, ...D_B146, ...D_RED_P6, ...D_B176, ...D_B185, ...D_RIGHT_RED],
    [...D_LEFT_BLUE, ...D_DROP, ...D_B57, ...D_B67, ...D_B77, ...D_B87, ...D_B97, ...D_B106, ...D_B116, ...D_B126, ...D_B136, ...D_B146, ...D_B156, ...D_B166, ...D_B176, ...D_B185, ...D_RIGHT_BLUE],
    [...D_LEFT_TEAL, ...D_DROP, ...D_B57, ...D_B67, ...D_B77, ...D_B87, ...D_B97, ...D_B106, ...D_B116, ...D_B126, ...D_B136, ...D_B146, ...D_B156, ...D_B166, ...D_B176, ...D_B185, ...D_B195, ...D_RIGHT_TEAL],
  ]);

  return (
    <div style={{ position: "absolute", left: 0, top: 0, width: 685, height: 578, background: "#fff", overflow: "hidden" }}>
      <Panel box={{ L: 32.7, T: 21.2, R: 279.5, B: 220 }} yMax={25} yTicks={[0, 5, 10, 15, 20]} yMajors={[0, 10, 20]} series={aSeries} tickFont={8} />
      <Panel box={{ L: 31.7, T: 316, R: 287, B: 526.7 }} yMax={30} yTicks={[0, 5, 10, 15, 20, 25, 30]} yMajors={[0, 10, 20, 30]} series={bSeries} tickFont={8} />
      <Panel box={{ L: 397.3, T: 24.3, R: 638.5, B: 219.3 }} yMax={55} yTicks={[0, 5, 10, 15, 20, 25, 30, 35, 40, 45, 50]} yMajors={[0, 10, 20, 30, 40, 50]} series={cSeries} tickFont={8.5} />
      <Panel box={{ L: 397.3, T: 336.1, R: 631, B: 525 }} yMax={110} yTicks={[0, 10, 20, 30, 40, 50, 60, 70, 80, 90, 100]} yMajors={[0, 20, 40, 60, 80, 100]} series={dSeries} tickFont={8} />

      <LegendBox names={A_NAMES} left={205} top={-1} width={123} height={46} r0={7.7} dy={11.3} lineX={3} lineLen={23.5} textX={28.3} fontSize={9} />
      <LegendBox names={B_NAMES} left={215} top={290.7} width={124.5} height={49.5} r0={7.6} dy={12} lineX={3} lineLen={22} textX={26.7} fontSize={9.5} />
      <LegendBox names={C_NAMES} left={570} top={2.7} width={114} height={44.6} r0={5.6} dy={11.5} lineX={3} lineLen={22} textX={26} fontSize={8.5} />
      <LegendBox names={D_NAMES} left={561} top={314.3} width={112.3} height={44} r0={7.4} dy={10.5} lineX={5.7} lineLen={19.3} textX={26.3} fontSize={8.5} />

      <Txt x={6.5} y={123} size={10} rotate>vertical stress(MPa)</Txt>
      <Txt x={157.5} y={242.7} size={9.5}>distance(m)</Txt>
      <Txt x={148.5} y={260} size={14.3}>(a) the first cycle</Txt>

      <Txt x={368} y={122} size={10} rotate>vertical stress(MPa)</Txt>
      <Txt x={515} y={242.3} size={9}>distance(m)</Txt>
      <Txt x={510.8} y={262.3} size={14.3}>(c) the third cycle</Txt>

      <Txt x={5} y={424} size={11} rotate>vertical stress(MPa)</Txt>
      <Txt x={162.5} y={551.7} size={10}>distance(m)</Txt>
      <Txt x={152.5} y={570.7} size={14.3}>(b) the second cycle</Txt>

      <Txt x={370} y={436} size={9} rotate>vertical stress(MPa)</Txt>
      <Txt x={516.7} y={547.7} size={10}>distance(m)</Txt>
      <Txt x={510} y={566.7} size={14.5}>(d) the fourth cycle</Txt>
    </div>
  );
}
